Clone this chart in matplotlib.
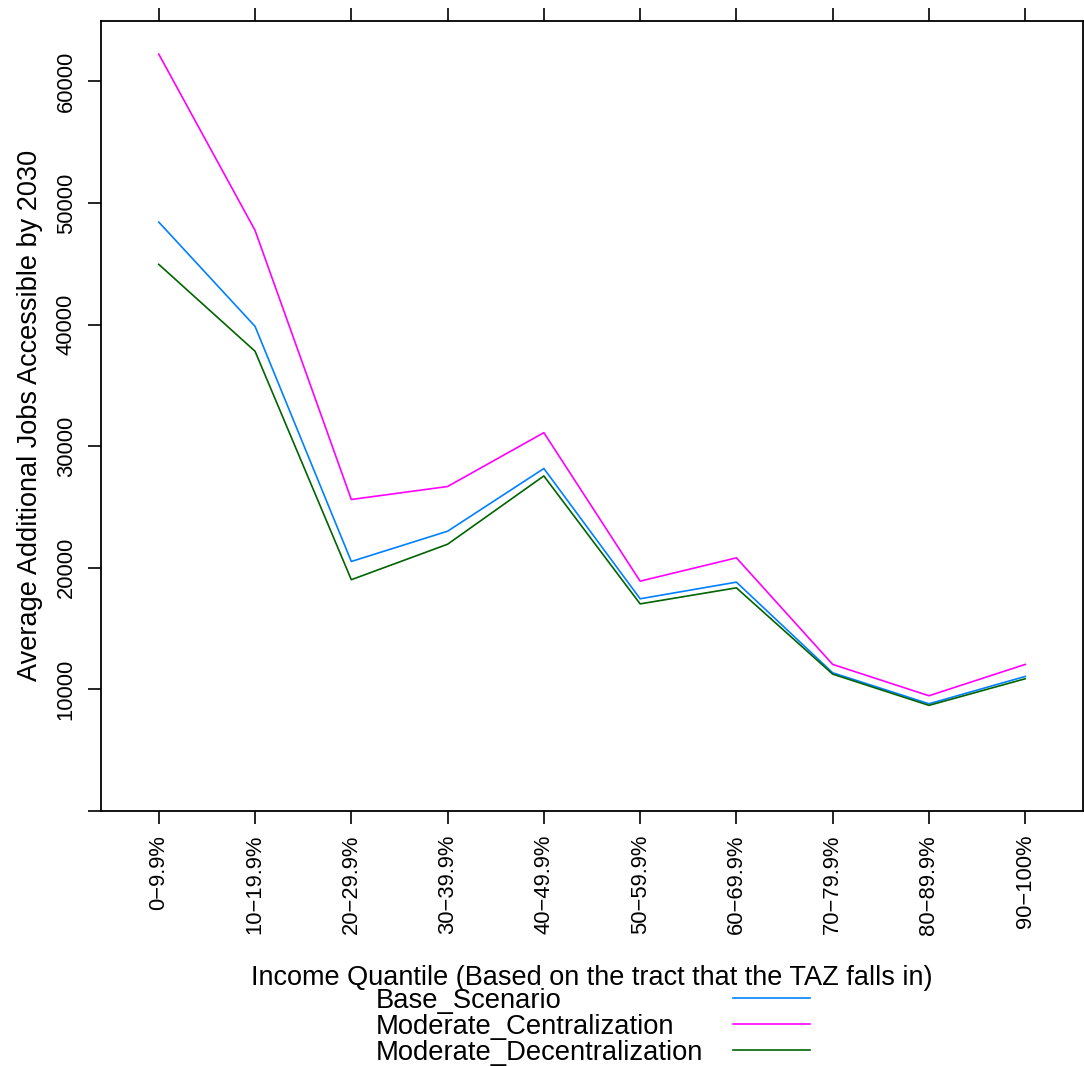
import matplotlib
matplotlib.use("Agg")
import matplotlib.pyplot as plt

plt.rcParams['font.family'] = ['Liberation Sans', 'DejaVu Sans']

quantiles = ["0\u22129.9%", "10\u221219.9%", "20\u221229.9%", "30\u221239.9%", "40\u221249.9%",
             "50\u221259.9%", "60\u221269.9%", "70\u221279.9%", "80\u221289.9%", "90\u2212100%"]
base_scenario = [48430, 39850, 20500, 22990, 28150, 17430, 18800, 11340, 8790, 11040]
mod_central = [62250, 47750, 25600, 26670, 31100, 18880, 20800, 12030, 9450, 12030]
mod_decentral = [44950, 37800, 19000, 21920, 27540, 17010, 18330, 11230, 8660, 10850]
series_names = ["Base_Scenario", "Moderate_Centralization", "Moderate_Decentralization"]
series_colors = ["#0080ff", "#ff00ff", "#006400"]
ytick_vals = [0, 10000, 20000, 30000, 40000, 50000, 60000]
ytick_labels = ["", "10000", "20000", "30000", "40000", "50000", "60000"]

W, H = 1084, 1066
fig = plt.figure(figsize=(W / 100, H / 100), dpi=100)
ax = fig.add_axes([101 / W, 1 - 810.6 / H, (1083 - 101) / W, (810.6 - 20.7) / H])

xpos = list(range(1, len(quantiles) + 1))
lines = []
for vals, name, col in zip([base_scenario, mod_central, mod_decentral], series_names, series_colors):
    ln, = ax.plot(xpos, vals, color=col, lw=1.2, label=name)
    lines.append(ln)

ax.set_xlim(0.4, 10.6)
ax.set_ylim(0, 65000)
ax.set_xticks(xpos)
ax.set_xticklabels(quantiles, rotation=90, fontsize=15.8, va='top')
ax.set_yticks(ytick_vals)
ax.set_yticklabels(ytick_labels, rotation=90, fontsize=15.8, va='center')
ax.tick_params(axis='both', direction='out', length=9.5, width=1.2, pad=8)
ax.tick_params(axis='x', top=True)
for s in ax.spines.values():
    s.set_linewidth(1.3)

ax.set_ylabel("Average Additional Jobs Accessible by 2030", fontsize=19.5, labelpad=9)
ax.set_xlabel("Income Quantile (Based on the tract that the TAZ falls in)", fontsize=19.5, labelpad=22)

# lattice-style key: labels left-aligned, line samples in their own column
leg_kw = dict(loc='center left', frameon=False, fontsize=19.7, labelspacing=0.0,
              borderpad=0, borderaxespad=0)
leg_text = fig.legend(lines, series_names, bbox_to_anchor=(376 / W, 1 - 1026.5 / H),
                      handlelength=0, handletextpad=0, **leg_kw)
for h in leg_text.legend_handles:
    h.set_visible(False)
fig.legend(lines, ["", "", ""], bbox_to_anchor=(733 / W, 1 - 1026.5 / H),
           handlelength=2.8, handletextpad=0, **leg_kw)

fig.savefig("out.png", dpi=100)
